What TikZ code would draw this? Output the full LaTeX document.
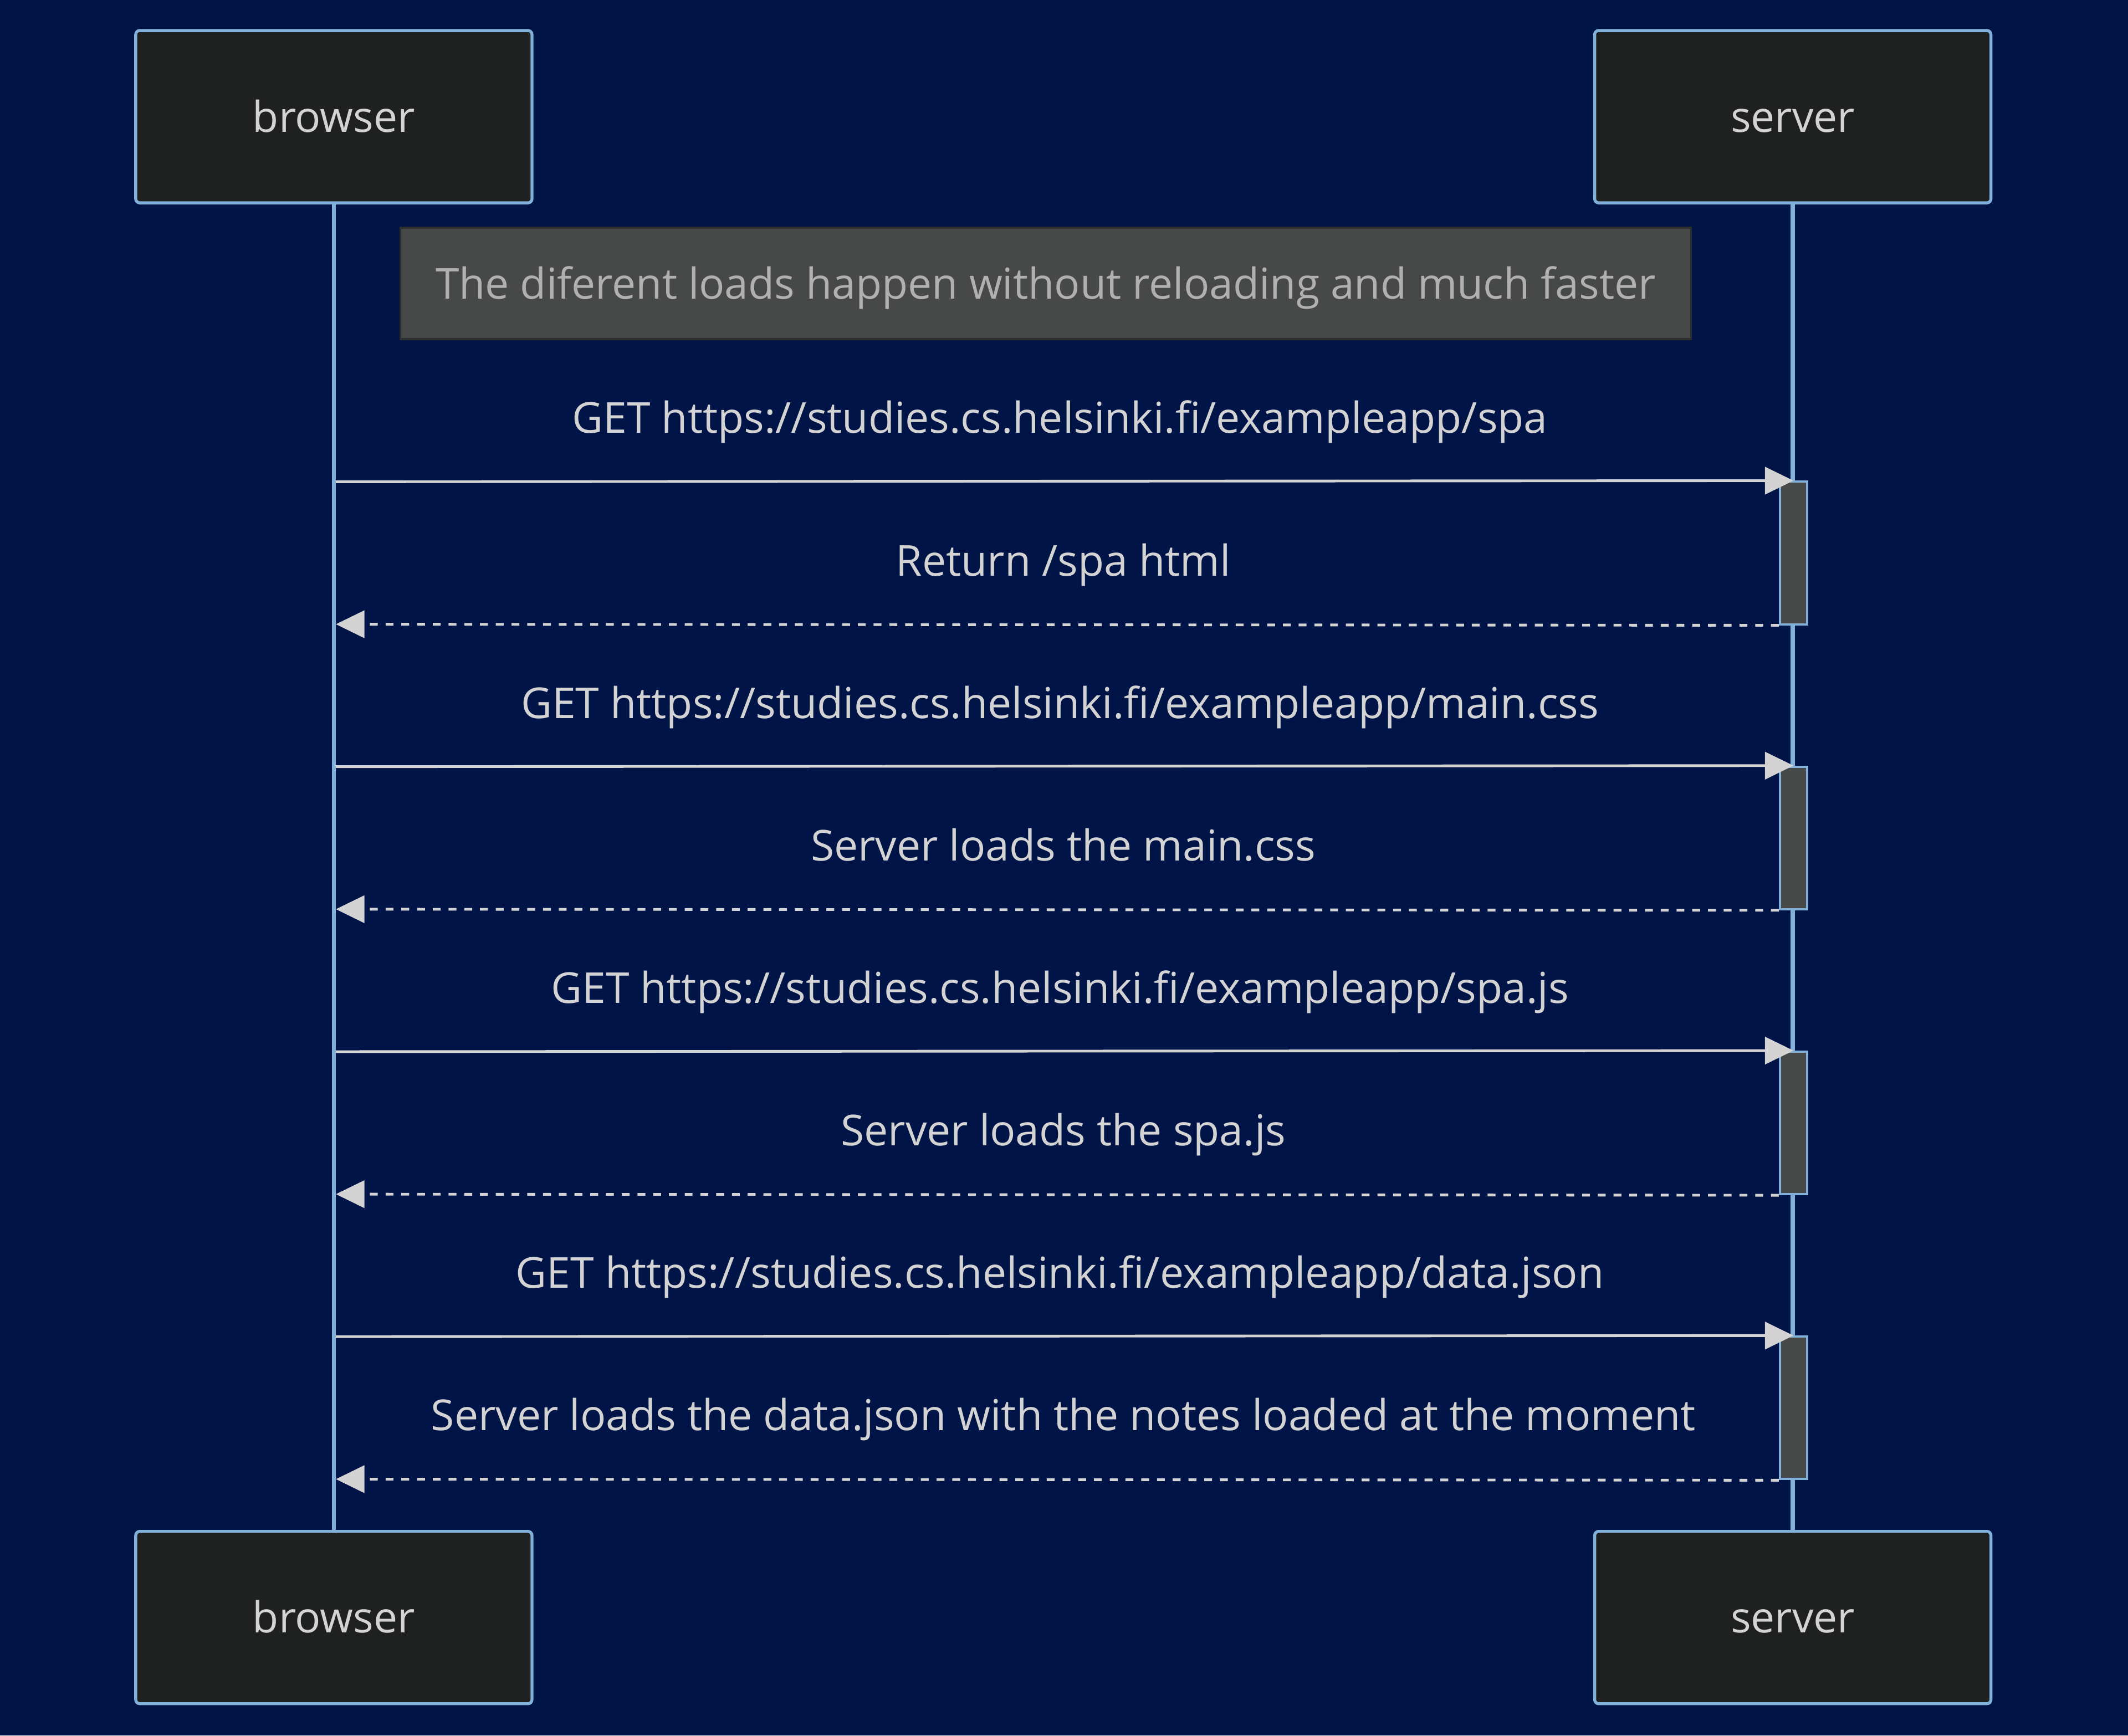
\documentclass[tikz,border=0pt]{standalone}
\usepackage{fontspec}
\setmainfont{Open Sans}
\usepackage{tikz}
\usetikzlibrary{positioning,calc,arrows.meta}

\definecolor{bgcol}{HTML}{001447}
\definecolor{actorbg}{HTML}{1F2020}
\definecolor{actorline}{HTML}{81B1DB}
\definecolor{notebg}{HTML}{474949}
\definecolor{noteline}{HTML}{2C2D2D}
\definecolor{notetext}{HTML}{B0B0B0}
\definecolor{msgcol}{HTML}{D3D3D3}

\begin{document}
\begin{tikzpicture}[x=0.5pt,y=-0.5pt,
        actor/.style={rectangle,draw=actorline,line width=1.1pt,fill=actorbg,rounded corners=1.5pt,
                      minimum width=146pt,minimum height=63.5pt,inner sep=0pt,text=msgcol},
        life/.style={actorline,line width=1.5pt},
        actbox/.style={rectangle,draw=actorline,line width=0.8pt,fill=notebg,
                       minimum width=10pt,minimum height=52.5pt,inner sep=0pt},
        msg/.style={msgcol,line width=1pt,-{Triangle[length=10.5pt,width=10pt]}},
        reply/.style={msg,dash pattern=on 2.9pt off 2.9pt},
        lbl/.style={text=msgcol,inner sep=0pt},
        note/.style={rectangle,draw=noteline,line width=0.8pt,fill=notebg,text=notetext,
                     minimum width=475.5pt,minimum height=41pt,inner sep=0pt},
        every node/.style={font=\fontsize{15.7}{19}\selectfont,text height=1.13em,text depth=0pt}]
    \fill[bgcol] (0,0) rectangle (1568,1279);
    % participants
    \path   (246,86)  node (bt) [actor] {browser}
            (1321,86) node (st) [actor] {server}
            (246,1192)  node (bb) [actor] {browser}
            (1321,1192) node (sb) [actor] {server};
    \draw [life] (bt) -- (bb);
    \draw [life] (st) -- (sb);
    % note
    \node (nt) [note] at (770.5,209) {The diferent loads happen without reloading and much faster};
    % activations
    \node (a1) [actbox] at (1321.5,407.5) {};
    \node (a2) [actbox] at (1321.5,617.5) {};
    \node (a3) [actbox] at (1321.5,827.5) {};
    \node (a4) [actbox] at (1321.5,1037.5) {};
    % ends on the browser lifeline
    \coordinate (r1) at (247.5,355);
    \coordinate (r2) at (247.5,460);
    \coordinate (r3) at (247.5,565);
    \coordinate (r4) at (247.5,670);
    \coordinate (r5) at (247.5,775);
    \coordinate (r6) at (247.5,880);
    \coordinate (r7) at (247.5,985);
    \coordinate (r8) at (247.5,1090);
    % messages
    \draw [msg]   (r1) -- (a1.north);
    \draw [reply] (a1.south west) -- (r2);
    \draw [msg]   (r3) -- (a2.north);
    \draw [reply] (a2.south west) -- (r4);
    \draw [msg]   (r5) -- (a3.north);
    \draw [reply] (a3.south west) -- (r6);
    \draw [msg]   (r7) -- (a4.north);
    \draw [reply] (a4.south west) -- (r8);
    \node (m1) [lbl] at (781,308)  {GET https://studies.cs.helsinki.fi/exampleapp/spa};
    \node (m2) [lbl] at (783.5,413)  {Return /spa html};
    \node (m3) [lbl] at (781,518)  {GET https://studies.cs.helsinki.fi/exampleapp/main.css};
    \node (m4) [lbl] at (783.5,623)  {Server loads the main.css};
    \node (m5) [lbl] at (781,728)  {GET https://studies.cs.helsinki.fi/exampleapp/spa.js};
    \node (m6) [lbl] at (783.5,833)  {Server loads the spa.js};
    \node (m7) [lbl] at (781,938)  {GET https://studies.cs.helsinki.fi/exampleapp/data.json};
    \node (m8) [lbl] at (783.5,1043) {Server loads the data.json with the notes loaded at the moment};
\end{tikzpicture}
\end{document}
